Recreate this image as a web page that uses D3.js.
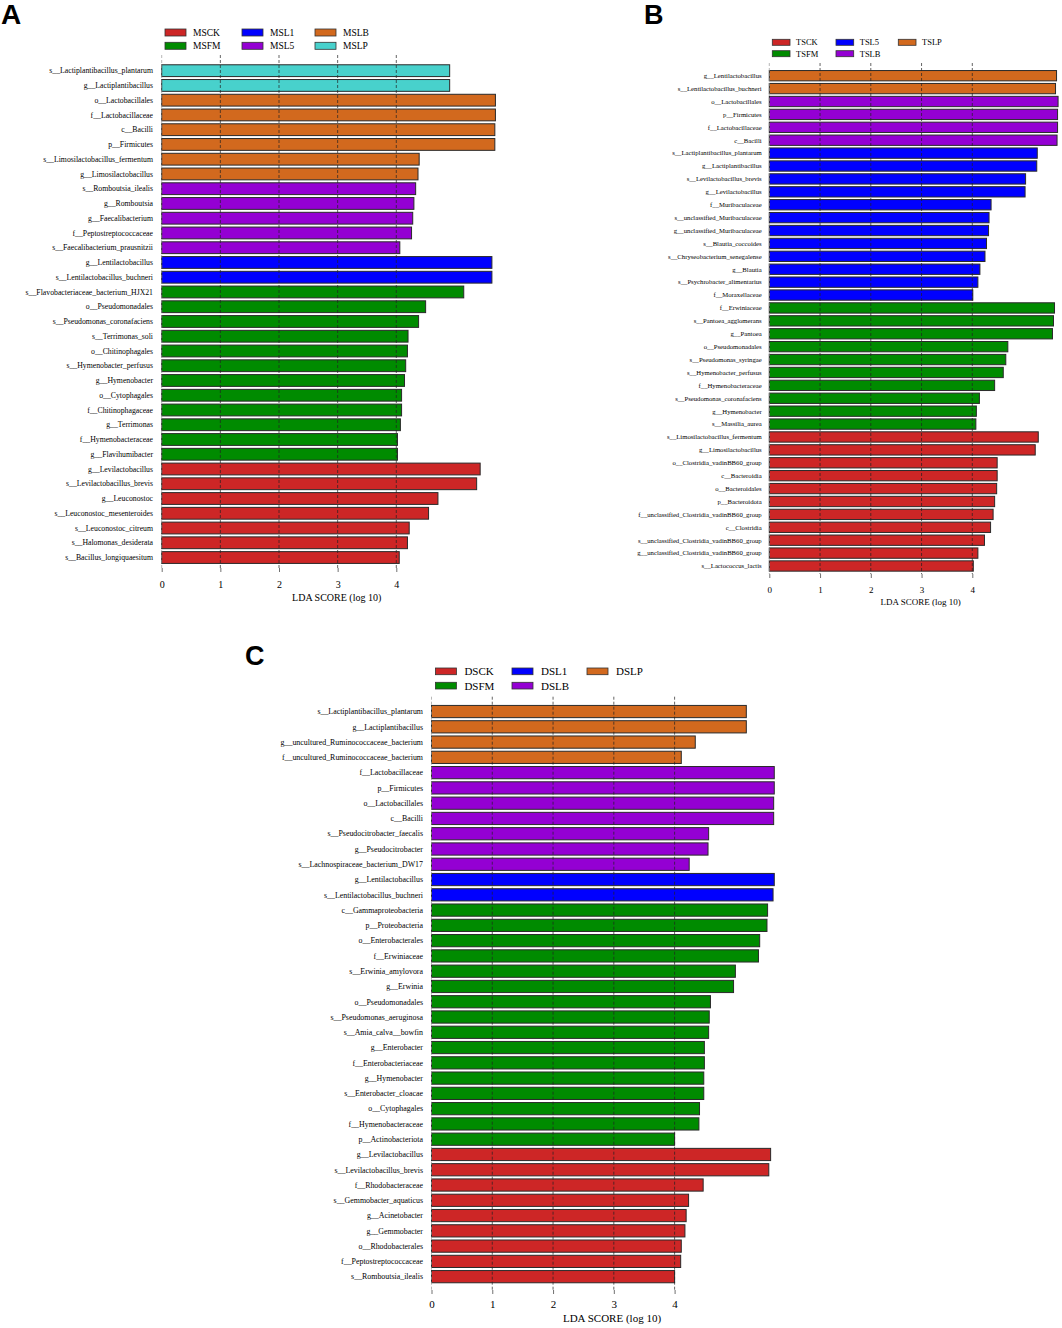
<!DOCTYPE html>
<html>
<head>
<meta charset="utf-8">
<script src="https://cdn.jsdelivr.net/npm/d3@7"></script>
<style>
  body { margin: 0; background: #fff; }
</style>
</head>
<body>
<div id="chart"></div>
<script>
// ---------- Panel A data ----------
const classesA = ["MSCK", "MSFM", "MSL1", "MSL5", "MSLB", "MSLP"];
const taxaA = [
  "s__Lactiplantibacillus_plantarum", "g__Lactiplantibacillus", "o__Lactobacillales",
  "f__Lactobacillaceae", "c__Bacilli", "p__Firmicutes", "s__Limosilactobacillus_fermentum",
  "g__Limosilactobacillus", "s__Romboutsia_ilealis", "g__Romboutsia", "g__Faecalibacterium",
  "f__Peptostreptococcaceae", "s__Faecalibacterium_prausnitzii", "g__Lentilactobacillus",
  "s__Lentilactobacillus_buchneri", "s__Flavobacteriaceae_bacterium_HJX21", "o__Pseudomonadales",
  "s__Pseudomonas_coronafaciens", "s__Terrimonas_soli", "o__Chitinophagales",
  "s__Hymenobacter_perfusus", "g__Hymenobacter", "o__Cytophagales", "f__Chitinophagaceae",
  "g__Terrimonas", "f__Hymenobacteraceae", "g__Flavihumibacter", "g__Levilactobacillus",
  "s__Levilactobacillus_brevis", "g__Leuconostoc", "s__Leuconostoc_mesenteroides",
  "s__Leuconostoc_citreum", "s__Halomonas_desiderata", "s__Bacillus_longiquaesitum"
];
const scoresA = [
  4.91, 4.91, 5.69, 5.69, 5.68, 5.68, 4.39, 4.37, 4.33, 4.30, 4.28, 4.26, 4.06, 5.63,
  5.63, 5.15, 4.50, 4.38, 4.20, 4.19, 4.16, 4.14, 4.09, 4.09, 4.07, 4.02, 4.02, 5.43,
  5.37, 4.71, 4.55, 4.22, 4.19, 4.05
];
const groupsA = [
  "MSLP", "MSLP", "MSLB", "MSLB", "MSLB", "MSLB", "MSLB", "MSLB", "MSL5", "MSL5", "MSL5",
  "MSL5", "MSL5", "MSL1", "MSL1", "MSFM", "MSFM", "MSFM", "MSFM", "MSFM", "MSFM", "MSFM",
  "MSFM", "MSFM", "MSFM", "MSFM", "MSFM", "MSCK", "MSCK", "MSCK", "MSCK", "MSCK", "MSCK", "MSCK"
];

// ---------- Panel B data ----------
const classesB = ["TSCK", "TSFM", "TSL5", "TSLB", "TSLP"];
const taxaB = [
  "g__Lentilactobacillus", "s__Lentilactobacillus_buchneri", "o__Lactobacillales", "p__Firmicutes",
  "f__Lactobacillaceae", "c__Bacilli", "s__Lactiplantibacillus_plantarum", "g__Lactiplantibacillus",
  "s__Levilactobacillus_brevis", "g__Levilactobacillus", "f__Muribaculaceae",
  "s__unclassified_Muribaculaceae", "g__unclassified_Muribaculaceae", "s__Blautia_coccoides",
  "s__Chryseobacterium_senegalense", "g__Blautia", "s__Psychrobacter_alimentarius", "f__Moraxellaceae",
  "f__Erwiniaceae", "s__Pantoea_agglomerans", "g__Pantoea", "o__Pseudomonadales",
  "s__Pseudomonas_syringae", "s__Hymenobacter_perfusus", "f__Hymenobacteraceae",
  "s__Pseudomonas_coronafaciens", "g__Hymenobacter", "s__Massilia_aurea",
  "s__Limosilactobacillus_fermentum", "g__Limosilactobacillus", "o__Clostridia_vadinBB60_group",
  "c__Bacteroidia", "o__Bacteroidales", "p__Bacteroidota", "f__unclassified_Clostridia_vadinBB60_group",
  "c__Clostridia", "s__unclassified_Clostridia_vadinBB60_group", "g__unclassified_Clostridia_vadinBB60_group",
  "s__Lactococcus_lactis"
];
const scoresB = [
  5.66, 5.64, 5.69, 5.68, 5.68, 5.67, 5.28, 5.27, 5.05, 5.04, 4.37, 4.33, 4.32, 4.28,
  4.25, 4.15, 4.11, 4.01, 5.62, 5.60, 5.58, 4.70, 4.66, 4.61, 4.44, 4.14, 4.08, 4.07,
  5.30, 5.24, 4.49, 4.49, 4.48, 4.44, 4.41, 4.36, 4.24, 4.11, 4.02
];
const groupsB = [
  "TSLP", "TSLP", "TSLB", "TSLB", "TSLB", "TSLB", "TSL5", "TSL5", "TSL5", "TSL5", "TSL5",
  "TSL5", "TSL5", "TSL5", "TSL5", "TSL5", "TSL5", "TSL5", "TSFM", "TSFM", "TSFM", "TSFM",
  "TSFM", "TSFM", "TSFM", "TSFM", "TSFM", "TSFM", "TSCK", "TSCK", "TSCK", "TSCK", "TSCK",
  "TSCK", "TSCK", "TSCK", "TSCK", "TSCK", "TSCK"
];

// ---------- Panel C data ----------
const classesC = ["DSCK", "DSFM", "DSL1", "DSLB", "DSLP"];
const taxaC = [
  "s__Lactiplantibacillus_plantarum", "g__Lactiplantibacillus", "g__uncultured_Ruminococcaceae_bacterium",
  "f__uncultured_Ruminococcaceae_bacterium", "f__Lactobacillaceae", "p__Firmicutes", "o__Lactobacillales",
  "c__Bacilli", "s__Pseudocitrobacter_faecalis", "g__Pseudocitrobacter", "s__Lachnospiraceae_bacterium_DW17",
  "g__Lentilactobacillus", "s__Lentilactobacillus_buchneri", "c__Gammaproteobacteria", "p__Proteobacteria",
  "o__Enterobacterales", "f__Erwiniaceae", "s__Erwinia_amylovora", "g__Erwinia", "o__Pseudomonadales",
  "s__Pseudomonas_aeruginosa", "s__Amia_calva__bowfin", "g__Enterobacter", "f__Enterobacteriaceae",
  "g__Hymenobacter", "s__Enterobacter_cloacae", "o__Cytophagales", "f__Hymenobacteraceae",
  "p__Actinobacteriota", "g__Levilactobacillus", "s__Levilactobacillus_brevis", "f__Rhodobacteraceae",
  "s__Gemmobacter_aquaticus", "g__Acinetobacter", "g__Gemmobacter", "o__Rhodobacterales",
  "f__Peptostreptococcaceae", "s__Romboutsia_ilealis"
];
const scoresC = [
  5.18, 5.18, 4.34, 4.11, 5.64, 5.64, 5.63, 5.63, 4.56, 4.55, 4.24, 5.64, 5.62, 5.53,
  5.52, 5.40, 5.38, 5.00, 4.97, 4.59, 4.57, 4.56, 4.49, 4.49, 4.48, 4.48, 4.41, 4.40,
  4.00, 5.58, 5.55, 4.47, 4.23, 4.19, 4.17, 4.11, 4.10, 4.00
];
const groupsC = [
  "DSLP", "DSLP", "DSLP", "DSLP", "DSLB", "DSLB", "DSLB", "DSLB", "DSLB", "DSLB", "DSLB",
  "DSL1", "DSL1", "DSFM", "DSFM", "DSFM", "DSFM", "DSFM", "DSFM", "DSFM", "DSFM", "DSFM",
  "DSFM", "DSFM", "DSFM", "DSFM", "DSFM", "DSFM", "DSFM", "DSCK", "DSCK", "DSCK", "DSCK",
  "DSCK", "DSCK", "DSCK", "DSCK", "DSCK"
];

// Tick values shared by all three panels
const scoreTicks = [0, 1, 2, 3, 4];

// class colours, in the order the classes are listed
const palette = ["#CD2626", "#008B00", "#0000FF", "#9400D3", "#D2691E", "#48D1CC"];

const svg = d3.select("#chart")
  .append("svg")
  .attr("width", 1062)
  .attr("height", 1328)
  .style("font-family", "'Liberation Serif', 'Times New Roman', serif");

function drawPanel(p) {
  const g = svg.append("g");

  const color = d3.scaleOrdinal()
    .domain(p.classes)
    .range(palette);

  const x = d3.scaleLinear()
    .domain([0, 4])
    .range([p.x0, p.x4]);

  const y = d3.scaleBand()
    .domain(p.taxa)
    .range([p.yTop, p.yBottom])
    .paddingInner(0.2)
    .paddingOuter(0.1);

  const rows = p.taxa.map((t, i) => ({ taxon: t, score: p.scores[i], group: p.groups[i] }));

  // panel letter
  g.append("text")
    .attr("x", p.titleX)
    .attr("y", p.titleY)
    .style("font-family", "'Liberation Sans', Arial, sans-serif")
    .style("font-weight", "bold")
    .style("font-size", p.titleSize + "px")
    .text(p.title);

  // legend, filled column by column with two rows
  const legend = g.append("g");
  p.classes.forEach((c, i) => {
    const lx = p.legendX[Math.floor(i / 2)];
    const ly = p.legendY[i % 2];
    legend.append("rect")
      .attr("x", lx)
      .attr("y", ly)
      .attr("width", p.swatchW)
      .attr("height", p.swatchH)
      .attr("fill", color(c))
      .attr("stroke", "#333")
      .attr("stroke-width", 0.8);
    legend.append("text")
      .attr("x", lx + p.legendDx)
      .attr("y", ly + p.swatchH / 2)
      .attr("dy", "0.35em")
      .style("font-size", p.legendSize + "px")
      .text(c);
  });

  // bars
  g.selectAll(".bar")
    .data(rows)
    .enter()
    .append("rect")
    .attr("class", "bar")
    .attr("x", x(0))
    .attr("y", d => y(d.taxon))
    .attr("width", d => x(d.score) - x(0))
    .attr("height", y.bandwidth())
    .attr("fill", d => color(d.group))
    .attr("stroke", "#2a2a2a")
    .attr("stroke-width", 1);

  // taxon labels
  g.selectAll(".taxon")
    .data(rows)
    .enter()
    .append("text")
    .attr("class", "taxon")
    .attr("x", p.labelX)
    .attr("y", d => y(d.taxon) + y.bandwidth() / 2)
    .attr("dy", "0.35em")
    .style("text-anchor", "end")
    .style("font-size", p.labelSize + "px")
    .text(d => d.taxon);

  // dashed grid lines drawn over the bars
  g.selectAll(".grid")
    .data(scoreTicks)
    .enter()
    .append("line")
    .attr("class", "grid")
    .attr("x1", d => x(d))
    .attr("x2", d => x(d))
    .attr("y1", p.gridTop)
    .attr("y2", p.gridBottom)
    .attr("stroke", d => d === 0 ? "#999" : "#222")
    .attr("stroke-width", 0.7)
    .attr("stroke-dasharray", "3,2");

  // x axis: ticks and numbers only, no domain line
  const axis = g.append("g")
    .attr("transform", `translate(0,${p.gridBottom})`)
    .call(d3.axisBottom(x).tickValues(scoreTicks).tickFormat(d3.format("d")).tickSize(4).tickPadding(0));
  axis.select(".domain").remove();
  axis.selectAll("line").attr("stroke", "#333").attr("stroke-width", 0.7);
  axis.selectAll("text")
    .attr("y", p.tickY - p.gridBottom)
    .attr("dy", 0)
    .style("font-family", "'Liberation Serif', 'Times New Roman', serif")
    .style("font-size", p.tickSize + "px")
    .attr("fill", "#000");

  // x axis label
  g.append("text")
    .attr("x", p.axisTitleX)
    .attr("y", p.axisTitleY)
    .style("text-anchor", "middle")
    .style("font-size", p.axisTitleSize + "px")
    .text("LDA SCORE (log 10)");
}

drawPanel({
  title: "A", titleX: 1, titleY: 24, titleSize: 28,
  classes: classesA, taxa: taxaA, scores: scoresA, groups: groupsA,
  x0: 161.7, x4: 396.3, yTop: 63.3, yBottom: 564.9, gridTop: 55, gridBottom: 568,
  labelX: 153, labelSize: 7.75,
  tickY: 588, tickSize: 10, axisTitleX: 336.7, axisTitleY: 601, axisTitleSize: 10,
  legendX: [165, 242, 315], legendY: [29, 42.3], swatchW: 21, swatchH: 7, legendDx: 28, legendSize: 9.5
});

drawPanel({
  title: "B", titleX: 644, titleY: 24, titleSize: 27,
  classes: classesB, taxa: taxaB, scores: scoresB, groups: groupsB,
  x0: 769.3, x4: 972.3, yTop: 69.25, yBottom: 572.45, gridTop: 63, gridBottom: 574,
  labelX: 761.7, labelSize: 6.7,
  tickY: 592.5, tickSize: 9, axisTitleX: 920.7, axisTitleY: 605, axisTitleSize: 9,
  legendX: [772.3, 836, 898.3], legendY: [39.3, 50.7], swatchW: 17.7, swatchH: 6, legendDx: 23.7, legendSize: 8.5
});

drawPanel({
  title: "C", titleX: 245, titleY: 665, titleSize: 27,
  classes: classesC, taxa: taxaC, scores: scoresC, groups: groupsC,
  x0: 431.5, x4: 674.6, yTop: 703.9, yBottom: 1284.3, gridTop: 696.7, gridBottom: 1290,
  labelX: 423, labelSize: 7.9,
  tickY: 1308, tickSize: 11, axisTitleX: 612, axisTitleY: 1322, axisTitleSize: 11,
  legendX: [435.4, 512, 587], legendY: [668, 682.3], swatchW: 21, swatchH: 6.7, legendDx: 29, legendSize: 11
});
</script>
</body>
</html>
